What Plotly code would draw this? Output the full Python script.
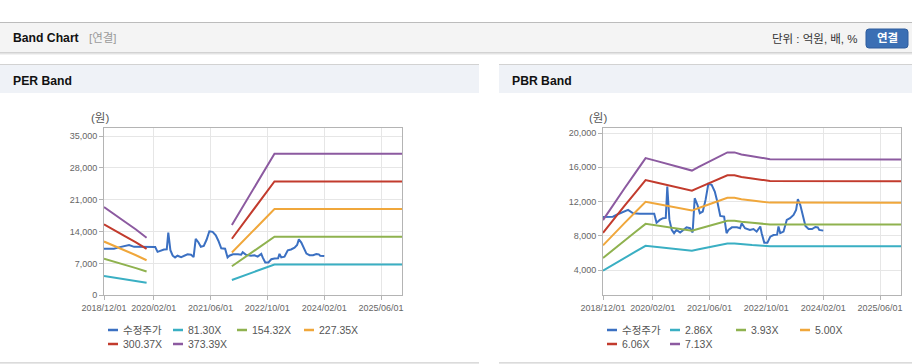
import plotly.graph_objects as go

W, H = 912, 364

# ---------------- data ----------------
price_dates = [
    "2018-12-01", "2019-02-24", "2019-04-07", "2019-07-04", "2019-08-16", "2019-10-13",
    "2020-02-13", "2020-03-04", "2020-04-01", "2020-04-28", "2020-05-22", "2020-06-04",
    "2020-06-22", "2020-07-12", "2020-08-01", "2020-08-22", "2020-09-22", "2020-10-19",
    "2020-11-16", "2020-12-16", "2021-01-07", "2021-01-25", "2021-02-18", "2021-03-10",
    "2021-04-04", "2021-04-28", "2021-05-22", "2021-06-19", "2021-07-16", "2021-08-07",
    "2021-09-01", "2021-10-04", "2021-10-25", "2021-11-10", "2021-12-10", "2022-01-22",
    "2022-02-18", "2022-03-04", "2022-04-01", "2022-05-13", "2022-06-13", "2022-07-10",
    "2022-08-10", "2022-08-22", "2022-09-13", "2022-10-10", "2022-11-04", "2022-12-01",
    "2023-01-01", "2023-01-13", "2023-01-28", "2023-02-25", "2023-03-25", "2023-04-22",
    "2023-05-22", "2023-06-13", "2023-06-28", "2023-07-19", "2023-08-10", "2023-09-01",
    "2023-09-28", "2023-10-28", "2023-11-25", "2023-12-16", "2023-12-28", "2024-02-01",
]
price_values = [
    10220, 10250, 10530, 11040, 10650, 10590,
    10590, 9550, 9870, 10070, 10100, 13760,
    9900, 8700, 8320, 8700, 8400, 8700,
    9000, 8900, 8400, 12400, 11600, 10650,
    10840, 12200, 14070, 13950, 13170, 11990,
    10330, 10250, 8320, 8700, 9000, 9000,
    8900, 9480, 8900, 8700, 8800, 8500,
    9100, 8320, 7220, 7220, 7920, 8100,
    8150, 9100, 8320, 8500, 9870, 10070,
    10450, 11040, 12290, 11600, 10250, 9170,
    8820, 8800, 9050, 9000, 8700, 8620,
]

per_dates = ["2018-12-01", "2019-03-01", "2019-06-01", "2019-09-01", "2019-12-01", "2020-06-01",
             "2021-12-01", "2022-03-01", "2022-06-01", "2022-09-01", "2022-12-01", "2025-12-01"]
per_81 = [4224, 3887, 3506, 3146, 2757, None, 3363, 4215, 5069, 5923, 6774, 6774]
per_154 = [8019, 7378, 6654, 5972, 5233, None, 6383, 8001, 9622, 11242, 12858, 12858]
per_227 = [11813, 10870, 9803, 8798, 7709, None, 9403, 11788, 14175, 16562, 18943, 18943]
per_300 = [15607, 14361, 12952, 11624, 10186, None, 12423, 15574, 18728, 21882, 25027, 25027]
per_373 = [19401, 17852, 16101, 14450, 12662, None, 15443, 19360, 23281, 27201, 31111, 31111]

pbr_dates = ["2018-12-01", "2019-03-01", "2019-06-01", "2019-09-01", "2019-12-01", "2020-03-01",
             "2020-06-01", "2020-09-01", "2020-12-01", "2021-01-01", "2021-03-01", "2021-06-01",
             "2021-09-01", "2021-11-01", "2022-01-01", "2022-03-01", "2022-06-01", "2022-09-01",
             "2022-11-01", "2025-12-01"]
pbr_286 = [3950, 4693, 5414, 6138, 6847, 6718, 6578, 6418, 6298, 6266, 6438, 6691,
           6944, 7116, 7116, 7018, 6938, 6858, 6798, 6787]
pbr_393 = [5427, 6449, 7439, 8434, 9408, 9232, 9039, 8819, 8654, 8611, 8846, 9194,
           9541, 9778, 9778, 9644, 9534, 9424, 9342, 9326]
pbr_500 = [6905, 8205, 9465, 10730, 11970, 11745, 11500, 11220, 11010, 10955, 11255, 11697,
           12139, 12440, 12440, 12270, 12130, 11990, 11885, 11865]
pbr_606 = [8369, 9944, 11472, 13005, 14508, 14235, 13938, 13599, 13344, 13277, 13641, 14177,
           14712, 15077, 15077, 14871, 14702, 14532, 14405, 14380]
pbr_713 = [9850, 11700, 13500, 15300, 17070, 16750, 16400, 16000, 15700, 15620, 16050, 16680,
           17310, 17740, 17740, 17500, 17300, 17100, 16950, 16920]

per_labels = ["수정주가", "81.30X", "154.32X", "227.35X", "300.37X", "373.39X"]
pbr_labels = ["수정주가", "2.86X", "3.93X", "5.00X", "6.06X", "7.13X"]

x_tick_vals = ["2018-12-01", "2020-02-01", "2021-06-01", "2022-10-01", "2024-02-01", "2025-06-01"]
x_tick_text = ["2018/12/01", "2020/02/01", "2021/06/01", "2022/10/01", "2024/02/01", "2025/06/01"]
per_y_ticks = [0, 7000, 14000, 21000, 28000, 35000]
pbr_y_ticks = [4000, 8000, 12000, 16000, 20000]

colors = ["#3b70c2", "#3aafc3", "#8fb24f", "#f0a73b", "#c23b2d", "#8c5aa0"]

FONT = "Liberation Sans, Noto Sans CJK KR, sans-serif"


def px(x):
    return x / W


def py(y):
    return 1 - y / H


fig = go.Figure()

per_series = [per_81, per_154, per_227, per_300, per_373]
pbr_series = [pbr_286, pbr_393, pbr_500, pbr_606, pbr_713]

fig.add_trace(go.Scatter(x=price_dates, y=price_values, mode="lines", name=per_labels[0],
                         line=dict(color=colors[0], width=2), xaxis="x", yaxis="y",
                         showlegend=False))
for i, s in enumerate(per_series):
    fig.add_trace(go.Scatter(x=per_dates, y=s, mode="lines", name=per_labels[i + 1],
                             line=dict(color=colors[i + 1], width=2), xaxis="x", yaxis="y",
                             showlegend=False, connectgaps=False))

fig.add_trace(go.Scatter(x=price_dates, y=price_values, mode="lines", name=pbr_labels[0],
                         line=dict(color=colors[0], width=2), xaxis="x2", yaxis="y2",
                         showlegend=False))
for i, s in enumerate(pbr_series):
    fig.add_trace(go.Scatter(x=pbr_dates, y=s, mode="lines", name=pbr_labels[i + 1],
                             line=dict(color=colors[i + 1], width=2), xaxis="x2", yaxis="y2",
                             showlegend=False))

axis_common = dict(showgrid=True, gridcolor="#e6e6e6", gridwidth=1, showline=True,
                   linecolor="#b4b4b4", linewidth=1, mirror=True, ticks="outside", ticklen=4,
                   tickcolor="#b4b4b4", zeroline=False, automargin=False,
                   tickfont=dict(family=FONT, size=9, color="#666666"))

x_range = ["2018-12-01", "2025-11-28"]
y_dom = [py(295.3), py(128)]

fig.update_layout(
    xaxis=dict(type="date", range=x_range, domain=[px(104), px(402)], anchor="y",
               tickmode="array", tickvals=x_tick_vals, ticktext=x_tick_text, **axis_common),
    yaxis=dict(range=[0, 36760], domain=y_dom, anchor="x", tickmode="array",
               tickvals=per_y_ticks, tickformat=",d", **axis_common),
    xaxis2=dict(type="date", range=x_range, domain=[px(603), px(901)], anchor="y2",
                tickmode="array", tickvals=x_tick_vals, ticktext=x_tick_text, **axis_common),
    yaxis2=dict(range=[1080, 20584], domain=y_dom, anchor="x2", tickmode="array",
                tickvals=pbr_y_ticks, tickformat=",d", **axis_common),
)

shapes = []
# header bar
shapes.append(dict(type="rect", xref="paper", yref="paper", x0=0, x1=1, y0=py(52.5), y1=py(22.5),
                   fillcolor="#f4f4f4", line=dict(width=0), layer="below"))
shapes.append(dict(type="line", xref="paper", yref="paper", x0=0, x1=1, y0=py(22.5), y1=py(22.5),
                   line=dict(color="#bcbcbc", width=1)))
shapes.append(dict(type="line", xref="paper", yref="paper", x0=0, x1=1, y0=py(52.8), y1=py(52.8),
                   line=dict(color="#c4c4c4", width=1.2)))
shapes.append(dict(type="line", xref="paper", yref="paper", x0=0, x1=1, y0=py(54), y1=py(54),
                   line=dict(color="#e6e6e6", width=1.2)))
# panel headers
for (a, b) in [(0, 479), (499, 912)]:
    shapes.append(dict(type="rect", xref="paper", yref="paper", x0=px(a), x1=px(b),
                       y0=py(93), y1=py(64.5), fillcolor="#eff2f7", line=dict(width=0),
                       layer="below"))
    shapes.append(dict(type="line", xref="paper", yref="paper", x0=px(a), x1=px(b),
                       y0=py(64.5), y1=py(64.5), line=dict(color="#d2d2d2", width=1.2)))
    shapes.append(dict(type="line", xref="paper", yref="paper", x0=px(a), x1=px(b),
                       y0=py(362.8), y1=py(362.8), line=dict(color="#cfcfcf", width=1.2)))

# button (rounded rect)
bx0, bx1, by0, by1, r = 866, 908, 29, 48, 3
path = (f"M {px(bx0 + r)},{py(by0)} L {px(bx1 - r)},{py(by0)} "
        f"Q {px(bx1)},{py(by0)} {px(bx1)},{py(by0 + r)} L {px(bx1)},{py(by1 - r)} "
        f"Q {px(bx1)},{py(by1)} {px(bx1 - r)},{py(by1)} L {px(bx0 + r)},{py(by1)} "
        f"Q {px(bx0)},{py(by1)} {px(bx0)},{py(by1 - r)} L {px(bx0)},{py(by0 + r)} "
        f"Q {px(bx0)},{py(by0)} {px(bx0 + r)},{py(by0)} Z")
shapes.append(dict(type="path", xref="paper", yref="paper", path=path,
                   fillcolor="#3b6fb4", line=dict(color="#2e5d9d", width=1)))

annotations = []


def text(x, y, s, size=12, color="#222", anchor="left", bold=False, family=FONT):
    annotations.append(dict(x=px(x), y=py(y), xref="paper", yref="paper",
                            text=f"<b>{s}</b>" if bold else s, showarrow=False,
                            xanchor=anchor, yanchor="middle",
                            font=dict(family=family, size=size, color=color)))


text(11, 38, "Band Chart", size=12.2, color="#111", bold=True)
text(87, 38, "[연결]", size=11.5, color="#9a9a9a")
text(860, 38.5, "단위 : 억원, 배, %", size=11.5, color="#333", anchor="right")
text(887, 38.5, "연결", size=11.5, color="#ffffff", anchor="center", bold=True)
text(11, 80.5, "PER Band", size=12.2, color="#111", bold=True)
text(510, 80.5, "PBR Band", size=12.2, color="#111", bold=True)
text(99.5, 118, "(원)", size=11.5, color="#555", anchor="center")
text(598, 118, "(원)", size=11.5, color="#555", anchor="center")

# custom legends
per_leg_pos = [(108, 330), (173, 330), (237, 330), (304, 330), (108, 344), (173, 344)]
pbr_leg_pos = [(607, 330), (670, 330), (736, 330), (800, 330), (607, 344), (670, 344)]
for labels, pos in [(per_labels, per_leg_pos), (pbr_labels, pbr_leg_pos)]:
    for i, (lx, ly) in enumerate(pos):
        shapes.append(dict(type="line", xref="paper", yref="paper", x0=px(lx), x1=px(lx + 10),
                           y0=py(ly), y1=py(ly), line=dict(color=colors[i], width=2.5)))
        text(lx + 12.5, ly, labels[i], size=10.5, color="#555")

fig.update_layout(
    width=W, height=H, autosize=False,
    margin=dict(l=0, r=0, t=0, b=0, pad=0, autoexpand=False),
    paper_bgcolor="#ffffff", plot_bgcolor="#ffffff",
    shapes=shapes, annotations=annotations, showlegend=False,
    hovermode=False,
)

fig.write_html(
    "out.html",
    config={"displayModeBar": False, "staticPlot": True},
    post_script="document.body.style.margin='0';document.body.style.overflow='hidden';",
)
